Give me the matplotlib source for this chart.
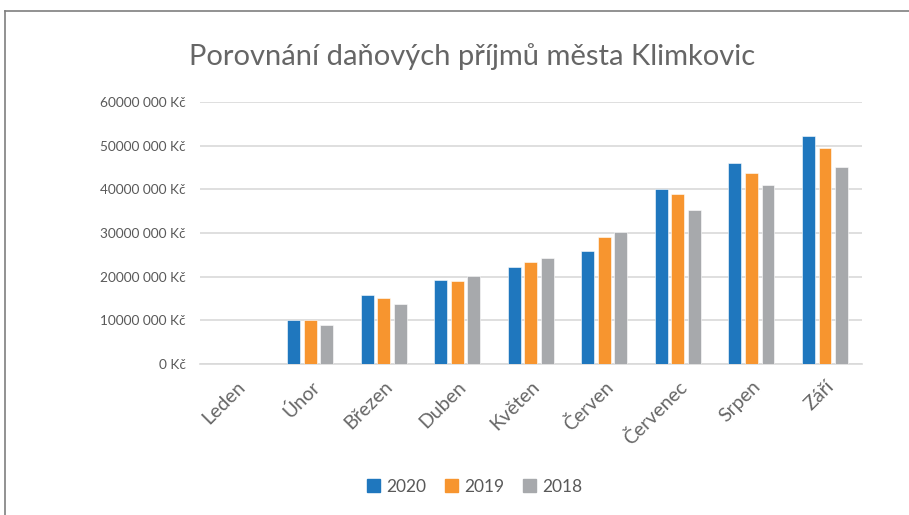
import matplotlib
matplotlib.use("Agg")
import matplotlib.pyplot as plt
import numpy as np
from matplotlib.lines import Line2D

months = ["Leden", "Únor", "Březen", "Duben", "Květen", "Červen", "Červenec", "Srpen", "Září"]
years = ["2020", "2019", "2018"]
v2020 = [0, 10.0e6, 15.9e6, 19.2e6, 22.3e6, 25.9e6, 40.1e6, 46.1e6, 52.2e6]
v2019 = [0, 10.0e6, 15.1e6, 19.0e6, 23.3e6, 29.1e6, 39.0e6, 43.7e6, 49.4e6]
v2018 = [0, 8.9e6, 13.8e6, 20.2e6, 24.3e6, 30.1e6, 35.3e6, 40.9e6, 45.0e6]
colors = ["#1f77be", "#f7952f", "#a7a9ac"]
yticks = [0, 10e6, 20e6, 30e6, 40e6, 50e6, 60e6]
ytick_labels = ["0 Kč", "10000 000 Kč", "20000 000 Kč", "30000 000 Kč",
                "40000 000 Kč", "50000 000 Kč", "60000 000 Kč"]

plt.rcParams['font.family'] = ['Lato', 'DejaVu Sans']
fig = plt.figure(figsize=(9.09, 5.15), dpi=100)
ax = fig.add_axes([0.22, 0.2932, 0.728, 0.509])

x = np.arange(len(months))
bw = 0.175
step = 0.225
for i, (vals, c, lab) in enumerate(zip([v2020, v2019, v2018], colors, years)):
    ax.bar(x + (i - 1) * step, vals, width=bw, color=c, label=lab, zorder=3,
           edgecolor='white', linewidth=0.4)

ax.set_xlim(-0.5, len(months) - 0.5)
ax.set_ylim(0, 60e6)
ax.set_yticks(yticks)
ax.set_yticklabels(ytick_labels, fontsize=9.8, color="#595959")
ax.set_xticks(x)
ax.set_xticklabels(months, rotation=45, ha='right', rotation_mode='anchor',
                   fontsize=14, color="#666666")
ax.tick_params(axis='x', length=0, pad=10)
ax.tick_params(axis='y', length=0, pad=10)
ax.grid(axis='y', color="#d9d9d9", linewidth=1.2, zorder=0)
for s in ['top', 'right', 'left']:
    ax.spines[s].set_visible(False)
ax.spines['bottom'].set_color("#d9d9d9")
ax.spines['bottom'].set_linewidth(1.2)

fig.text(0.519, 0.89, "Porovnání daňových příjmů města Klimkovic",
         ha='center', va='center', fontsize=21, color="#666666")

handles = [plt.Rectangle((0, 0), 1, 1, color=c) for c in colors]
fig.legend(handles, years, loc='center', bbox_to_anchor=(0.522, 0.055), ncol=3,
           frameon=False, fontsize=12.5, handlelength=0.75, handleheight=0.75,
           columnspacing=1.1, handletextpad=0.35, labelcolor="#595959")

# chart-area frame (top and left edges visible)
fig.add_artist(Line2D([0.006, 1.0], [0.979, 0.979], color="#7f7f7f", linewidth=1.2))
fig.add_artist(Line2D([0.006, 0.006], [0.0, 0.979], color="#7f7f7f", linewidth=1.2))

fig.savefig("out.png", dpi=100)
